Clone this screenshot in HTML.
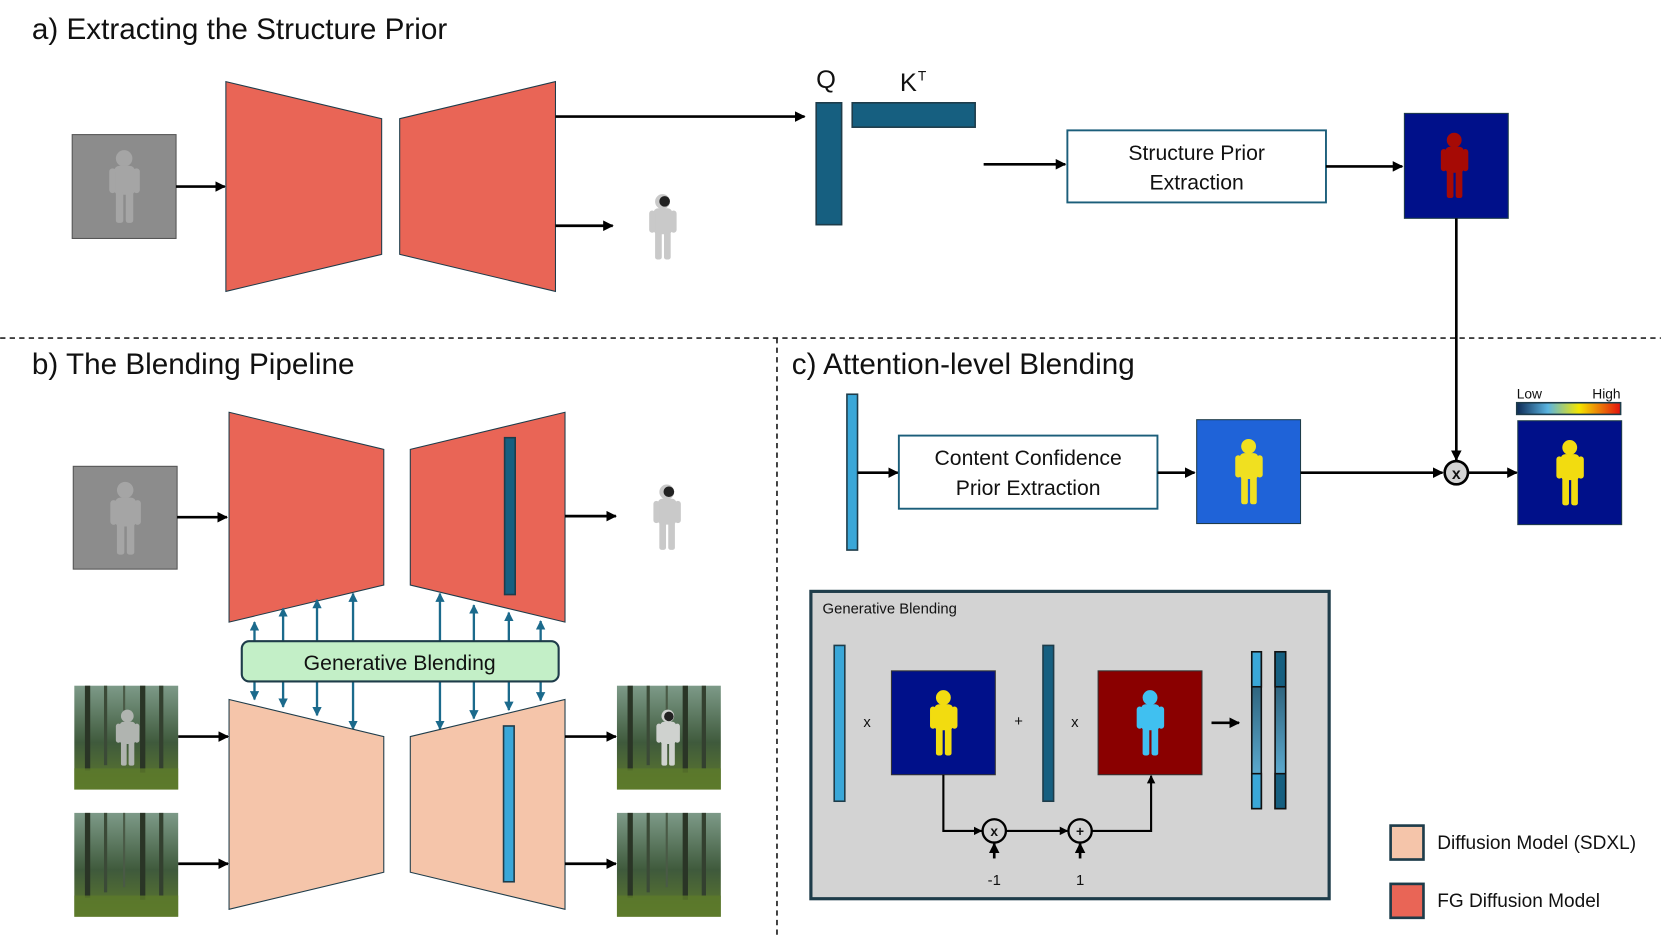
<!DOCTYPE html>
<html><head><meta charset="utf-8"><style>
html,body{margin:0;padding:0;background:#fff;width:1661px;height:939px;overflow:hidden}
svg{display:block}
text{font-family:"Liberation Sans",sans-serif;fill:#111}
</style></head><body>
<svg width="1661" height="939" viewBox="0 0 1567 886" xmlns="http://www.w3.org/2000/svg">
<defs>
<marker id="ah" viewBox="0 0 10 10" refX="9" refY="5" markerWidth="4" markerHeight="4" orient="auto"><path d="M0,0L10,5L0,10z" fill="#000"/></marker>
<marker id="bh" viewBox="0 0 10 10" refX="9" refY="5" markerWidth="4" markerHeight="4" orient="auto"><path d="M0,0L10,5L0,10z" fill="#1b6a8c"/></marker>
<linearGradient id="cb" x1="0" x2="1"><stop offset="0" stop-color="#0d2a55"/><stop offset=".3" stop-color="#5ab4e0"/><stop offset=".6" stop-color="#f4e600"/><stop offset="1" stop-color="#e3100e"/></linearGradient>
<linearGradient id="seg1" x1="0" y1="0" x2="0" y2="1"><stop offset="0" stop-color="#1e4a60"/><stop offset="1" stop-color="#6cc3ec"/></linearGradient>
<linearGradient id="forest" x1="0" y1="0" x2="0" y2="1"><stop offset="0" stop-color="#7d9a88"/><stop offset=".55" stop-color="#3f5a3c"/><stop offset="1" stop-color="#5f7a2c"/></linearGradient>
<symbol id="astro" viewBox="0 0 100 100">
<circle cx="50" cy="16" r="10"/>
<rect x="38" y="25" width="25" height="35" rx="6"/>
<rect x="32" y="28" width="8" height="30" rx="4"/>
<rect x="61" y="28" width="8" height="30" rx="4"/>
<rect x="40" y="56" width="9" height="38" rx="3"/>
<rect x="52" y="56" width="9" height="38" rx="3"/>
</symbol>
<g id="forestimg">
<rect width="98" height="98" fill="url(#forest)"/>
<rect x="10" width="5" height="80" fill="#2a3526"/><rect x="28" width="3" height="75" fill="#3b4a37"/><rect x="62" width="5" height="82" fill="#2a3526"/><rect x="80" width="4" height="78" fill="#33402f"/><rect x="46" width="2" height="70" fill="#4a5a46"/>
<rect y="78" width="98" height="20" fill="#5d7a2a" opacity=".8"/>
</g>
</defs>

<text x="30" y="37" font-size="28">a) Extracting the Structure Prior</text>
<text x="30" y="353" font-size="28">b) The Blending Pipeline</text>
<text x="747" y="353" font-size="28">c) Attention-level Blending</text>

<line x1="0" y1="319" x2="1567" y2="319" stroke="#222" stroke-width="1.6" stroke-dasharray="5,4"/>
<line x1="733" y1="319" x2="733" y2="886" stroke="#222" stroke-width="1.6" stroke-dasharray="5,4"/>

<!-- a -->
<rect x="68" y="127" width="98" height="98" fill="#8c8c8c" stroke="#555"/>
<use href="#astro" x="78" y="130" width="78" height="92" fill="#a5a5a5"/>
<line x1="166" y1="176" x2="212" y2="176" stroke="#000" stroke-width="2.5" marker-end="url(#ah)"/>
<polygon points="213,77 360,112 360,240 213,275" fill="#e96556" stroke="#1e3c4a" stroke-width="1"/>
<polygon points="377,112 524,77 524,275 377,240" fill="#e96556" stroke="#1e3c4a" stroke-width="1"/>
<line x1="524" y1="110" x2="759" y2="110" stroke="#000" stroke-width="2.5" marker-end="url(#ah)"/>
<line x1="524" y1="213" x2="578" y2="213" stroke="#000" stroke-width="2.5" marker-end="url(#ah)"/>
<use href="#astro" x="590" y="166" width="70" height="96" fill="#c9c9c9"/>
<circle cx="627" cy="190" r="5" fill="#222"/>
<text x="770" y="83" font-size="24">Q</text>
<text x="849" y="86" font-size="24">K</text><text x="866" y="76" font-size="13">T</text>
<rect x="770" y="97" width="24" height="115" fill="#165f80" stroke="#1e3c4a" stroke-width="1.5"/>
<rect x="804" y="97" width="116" height="23" fill="#165f80" stroke="#1e3c4a" stroke-width="1.5"/>
<line x1="928" y1="155" x2="1005" y2="155" stroke="#000" stroke-width="2.5" marker-end="url(#ah)"/>
<rect x="1007" y="123" width="244" height="68" fill="#fff" stroke="#1b5e7a" stroke-width="1.8"/>
<text x="1129" y="151" font-size="20" text-anchor="middle">Structure Prior</text>
<text x="1129" y="179" font-size="20" text-anchor="middle">Extraction</text>
<line x1="1251" y1="157" x2="1323" y2="157" stroke="#000" stroke-width="2.5" marker-end="url(#ah)"/>
<rect x="1325" y="107" width="98" height="99" fill="#00108a" stroke="#1e3c4a"/>
<use href="#astro" x="1337" y="108" width="70" height="96" fill="#a60a05"/>
<line x1="1374" y1="206" x2="1374" y2="434" stroke="#000" stroke-width="2.5" marker-end="url(#ah)"/>

<!-- b -->
<rect x="69" y="440" width="98" height="97" fill="#8c8c8c" stroke="#555"/>
<use href="#astro" x="79" y="443" width="78" height="92" fill="#a5a5a5"/>
<line x1="167" y1="488" x2="214" y2="488" stroke="#000" stroke-width="2.5" marker-end="url(#ah)"/>
<polygon points="216,389 362,424 362,552 216,587" fill="#e96556" stroke="#1e3c4a"/>
<polygon points="387,424 533,389 533,587 387,552" fill="#e96556" stroke="#1e3c4a"/>
<rect x="476" y="413" width="10" height="148" fill="#165f80" stroke="#1e3c4a" stroke-width="1.5"/>
<line x1="533" y1="487" x2="581" y2="487" stroke="#000" stroke-width="2.5" marker-end="url(#ah)"/>
<use href="#astro" x="594" y="440" width="70" height="96" fill="#c9c9c9"/>
<circle cx="631" cy="464" r="5" fill="#222"/>

<g stroke="#1b6a8c" stroke-width="2.2" marker-end="url(#bh)">
<line x1="240" y1="605" x2="240" y2="587"/><line x1="267" y1="605" x2="267" y2="574"/><line x1="299" y1="605" x2="299" y2="566"/><line x1="333" y1="605" x2="333" y2="560"/>
<line x1="415" y1="605" x2="415" y2="560"/><line x1="447" y1="605" x2="447" y2="571"/><line x1="480" y1="605" x2="480" y2="578"/><line x1="510" y1="605" x2="510" y2="586"/>
<line x1="240" y1="643" x2="240" y2="660"/><line x1="267" y1="643" x2="267" y2="667"/><line x1="299" y1="643" x2="299" y2="675"/><line x1="333" y1="643" x2="333" y2="688"/>
<line x1="415" y1="643" x2="415" y2="688"/><line x1="447" y1="643" x2="447" y2="678"/><line x1="480" y1="643" x2="480" y2="670"/><line x1="510" y1="643" x2="510" y2="661"/>
</g>
<rect x="228" y="605" width="299" height="38" rx="7" fill="#c3efc7" stroke="#1e3c4a" stroke-width="2"/>
<text x="377" y="632" font-size="20" text-anchor="middle">Generative Blending</text>

<polygon points="216,660 362,695 362,823 216,858" fill="#f5c5aa" stroke="#1e3c4a"/>
<polygon points="387,695 533,660 533,858 387,823" fill="#f5c5aa" stroke="#1e3c4a"/>
<rect x="475" y="685" width="10" height="147" fill="#3aa7d8" stroke="#1e3c4a" stroke-width="1.5"/>

<use href="#forestimg" x="70" y="647"/><use href="#astro" x="90" y="650" width="60" height="92" fill="#b0b4b0"/>
<use href="#forestimg" x="70" y="767"/>
<use href="#forestimg" x="582" y="647"/><use href="#astro" x="600" y="650" width="60" height="92" fill="#cfd2cf"/><circle cx="631" cy="676" r="4.5" fill="#222"/>
<use href="#forestimg" x="582" y="767"/>
<line x1="168" y1="695" x2="215" y2="695" stroke="#000" stroke-width="2.5" marker-end="url(#ah)"/>
<line x1="168" y1="815" x2="215" y2="815" stroke="#000" stroke-width="2.5" marker-end="url(#ah)"/>
<line x1="533" y1="695" x2="581" y2="695" stroke="#000" stroke-width="2.5" marker-end="url(#ah)"/>
<line x1="533" y1="815" x2="581" y2="815" stroke="#000" stroke-width="2.5" marker-end="url(#ah)"/>

<!-- c -->
<rect x="799" y="372" width="10" height="147" fill="#3aa7d8" stroke="#1e3c4a" stroke-width="1.5"/>
<line x1="809" y1="446" x2="847" y2="446" stroke="#000" stroke-width="2.5" marker-end="url(#ah)"/>
<rect x="848" y="411" width="244" height="69" fill="#fff" stroke="#1b5e7a" stroke-width="1.8"/>
<text x="970" y="439" font-size="20" text-anchor="middle">Content Confidence</text>
<text x="970" y="467" font-size="20" text-anchor="middle">Prior Extraction</text>
<line x1="1092" y1="446" x2="1127" y2="446" stroke="#000" stroke-width="2.5" marker-end="url(#ah)"/>
<rect x="1129" y="396" width="98" height="98" fill="#1f63d8" stroke="#1e3c4a"/>
<use href="#astro" x="1143" y="398" width="70" height="94" fill="#f0e020"/>
<line x1="1227" y1="446" x2="1361" y2="446" stroke="#000" stroke-width="2.5" marker-end="url(#ah)"/>
<circle cx="1374" cy="446" r="11" fill="#d3d3d3" stroke="#000" stroke-width="2.5"/>
<text x="1374" y="452" font-size="15" font-weight="bold" text-anchor="middle">x</text>
<line x1="1385" y1="446" x2="1431" y2="446" stroke="#000" stroke-width="2.5" marker-end="url(#ah)"/>
<text x="1431" y="376" font-size="13">Low</text>
<text x="1529" y="376" font-size="13" text-anchor="end">High</text>
<rect x="1431" y="380" width="98" height="11" fill="url(#cb)" stroke="#1e3c4a" stroke-width="1.5"/>
<rect x="1432" y="397" width="98" height="98" fill="#00108a" stroke="#1e3c4a"/>
<use href="#astro" x="1446" y="399" width="70" height="94" fill="#f2dc10"/>

<!-- generative blending box -->
<rect x="765" y="558" width="489" height="290" fill="#d3d3d3" stroke="#1e3c4a" stroke-width="3"/>
<text x="776" y="579" font-size="14">Generative Blending</text>
<rect x="787" y="609" width="10" height="147" fill="#3aa7d8" stroke="#1e3c4a" stroke-width="1.5"/>
<text x="818" y="686" font-size="14" text-anchor="middle">x</text>
<rect x="841" y="633" width="98" height="98" fill="#00108a" stroke="#333"/>
<use href="#astro" x="855" y="635" width="70" height="94" fill="#f2dc10"/>
<text x="961" y="685" font-size="14" text-anchor="middle">+</text>
<rect x="984" y="609" width="10" height="147" fill="#165f80" stroke="#1e3c4a" stroke-width="1.5"/>
<text x="1014" y="686" font-size="14" text-anchor="middle">x</text>
<rect x="1036" y="633" width="98" height="98" fill="#8a0000" stroke="#333"/>
<use href="#astro" x="1050" y="635" width="70" height="94" fill="#40c0f0"/>
<line x1="1143" y1="682" x2="1169" y2="682" stroke="#000" stroke-width="2.5" marker-end="url(#ah)"/>
<rect x="1181" y="615" width="9" height="148" fill="url(#seg1)" stroke="#111" stroke-width="1.5"/>
<rect x="1181" y="615" width="9" height="33" fill="#3aa7d8" stroke="#111" stroke-width="1.5"/>
<rect x="1181" y="730" width="9" height="33" fill="#3aa7d8" stroke="#111" stroke-width="1.5"/>
<rect x="1203" y="615" width="10" height="148" fill="url(#seg1)" stroke="#111" stroke-width="1.5"/>
<rect x="1203" y="615" width="10" height="33" fill="#165f80" stroke="#111" stroke-width="1.5"/>
<rect x="1203" y="730" width="10" height="33" fill="#165f80" stroke="#111" stroke-width="1.5"/>
<polyline points="890,731 890,784 926,784" fill="none" stroke="#000" stroke-width="2" marker-end="url(#ah)"/>
<line x1="949" y1="784" x2="1007" y2="784" stroke="#000" stroke-width="2" marker-end="url(#ah)"/>
<polyline points="1030,784 1086,784 1086,732" fill="none" stroke="#000" stroke-width="2" marker-end="url(#ah)"/>
<circle cx="938" cy="784" r="11" fill="#d3d3d3" stroke="#000" stroke-width="2.2"/>
<text x="938" y="789" font-size="13" font-weight="bold" text-anchor="middle">x</text>
<circle cx="1019" cy="784" r="11" fill="#d3d3d3" stroke="#000" stroke-width="2.2"/>
<text x="1019" y="789" font-size="13" font-weight="bold" text-anchor="middle">+</text>
<line x1="938" y1="810" x2="938" y2="796" stroke="#000" stroke-width="2.5" marker-end="url(#ah)"/>
<line x1="1019" y1="810" x2="1019" y2="796" stroke="#000" stroke-width="2.5" marker-end="url(#ah)"/>
<text x="938" y="835" font-size="14" text-anchor="middle">-1</text>
<text x="1019" y="835" font-size="14" text-anchor="middle">1</text>

<!-- legend -->
<rect x="1312" y="779" width="31" height="32" fill="#f5c5aa" stroke="#1e3c4a" stroke-width="2.5"/>
<rect x="1312" y="834" width="31" height="32" fill="#e96556" stroke="#1e3c4a" stroke-width="2.5"/>
<text x="1356" y="801" font-size="18">Diffusion Model (SDXL)</text>
<text x="1356" y="856" font-size="18">FG Diffusion Model</text>
</svg>
</body></html>
